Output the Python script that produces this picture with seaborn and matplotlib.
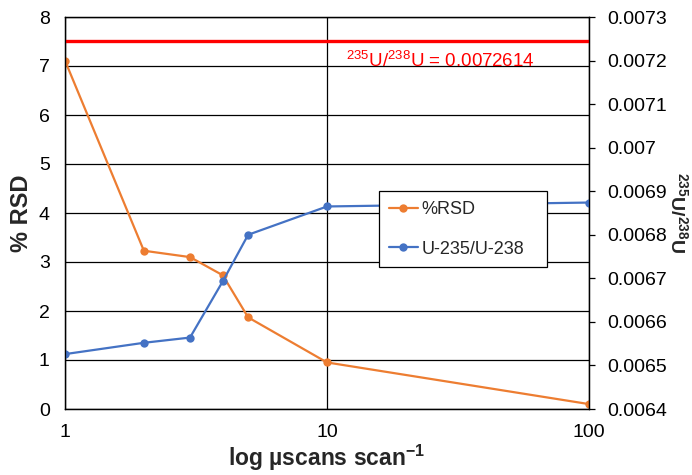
import matplotlib
matplotlib.use('Agg')
import matplotlib.pyplot as plt
import matplotlib.ticker as mticker
import pandas as pd
import seaborn as sns

# values
scans = [1, 2, 3, 4, 5, 10, 100]
rsd = [7.11, 3.23, 3.10, 2.73, 1.87, 0.95, 0.10]
ratio = [0.006526, 0.006552, 0.006564, 0.006693, 0.006800, 0.006865, 0.006874]
natural_line = 0.007246   # where the red line sits on the right axis
natural_label = '0.0072614'

df = pd.DataFrame({'scans': scans, 'rsd': rsd, 'ratio': ratio})

sns.set_style('white')
plt.rcParams['font.family'] = ['Liberation Sans', 'DejaVu Sans']
plt.rcParams['mathtext.fontset'] = 'custom'
plt.rcParams['mathtext.rm'] = 'Liberation Sans'
plt.rcParams['mathtext.bf'] = 'Liberation Sans:bold'

ORANGE = '#ED7D31'
BLUE = '#4472C4'

fig, ax = plt.subplots(figsize=(6.92, 4.75), dpi=100)
fig.subplots_adjust(left=65/692, right=589/692, top=1-17/475, bottom=1-409/475)
ax2 = ax.twinx()

sns.lineplot(data=df, x='scans', y='rsd', ax=ax, color=ORANGE, marker='o',
             markersize=6, markeredgewidth=0, linewidth=1.6, label='%RSD', legend=False)
sns.lineplot(data=df, x='scans', y='ratio', ax=ax2, color=BLUE, marker='o',
             markersize=6, markeredgewidth=0, linewidth=1.6, label='U-235/U-238', legend=False)
ax2.axhline(natural_line, color='#FF0000', linewidth=2.4, zorder=1)
ax2.text(0.536, 0.916, r'$^{235}$U/$^{238}$U = ' + natural_label, transform=ax2.transAxes,
         ha='left', va='top', color='#FF0000', fontsize=13.5)

ax.set_xscale('log')
ax.set_xlim(1, 100)
ax.set_ylim(0, 8)
ax2.set_ylim(0.0064, 0.0073)
ax.xaxis.set_major_formatter(mticker.FuncFormatter(lambda v, p: f'{v:g}'))
ax.xaxis.set_minor_locator(mticker.NullLocator())
ax.yaxis.set_major_locator(mticker.MultipleLocator(1))
ax2.yaxis.set_major_locator(mticker.MultipleLocator(0.0001))
ax2.yaxis.set_major_formatter(mticker.FuncFormatter(lambda v, p: f'{v:.4f}'.rstrip('0')))

ax.grid(True, axis='both', which='major', color='black', linewidth=0.9)
ax2.grid(False)
for a in (ax, ax2):
    for s in a.spines.values():
        s.set_color('black')
        s.set_linewidth(0.9)

ax.tick_params(axis='both', length=0, labelsize=14, pad=11, colors='black')
ax2.tick_params(axis='y', length=4, width=0.9, direction='out', labelsize=14,
                pad=9, colors='black')

ax.set_xlabel(r'log µscans scan$\mathbf{^{-1}}$', fontsize=16.5, fontweight='bold', labelpad=1)
ax.set_ylabel('% RSD', fontsize=17, fontweight='bold', labelpad=4)
ax2.set_ylabel(r'$\mathbf{{}^{235}U/{}^{238}U}$', fontsize=14, rotation=270,
               labelpad=16)

h1, l1 = ax.get_legend_handles_labels()
h2, l2 = ax2.get_legend_handles_labels()
leg = ax2.legend(h1 + h2, l1 + l2, loc='upper left',
                 bbox_to_anchor=(0.599, 0.36, 0.321, 0.196), mode='expand',
                 fontsize=13, frameon=True, fancybox=False, framealpha=1,
                 edgecolor='black', handlelength=1.6, handletextpad=0.2,
                 labelspacing=1.25, borderpad=0.55, borderaxespad=0)
leg.get_frame().set_linewidth(0.9)

fig.savefig('out.png', dpi=100)
